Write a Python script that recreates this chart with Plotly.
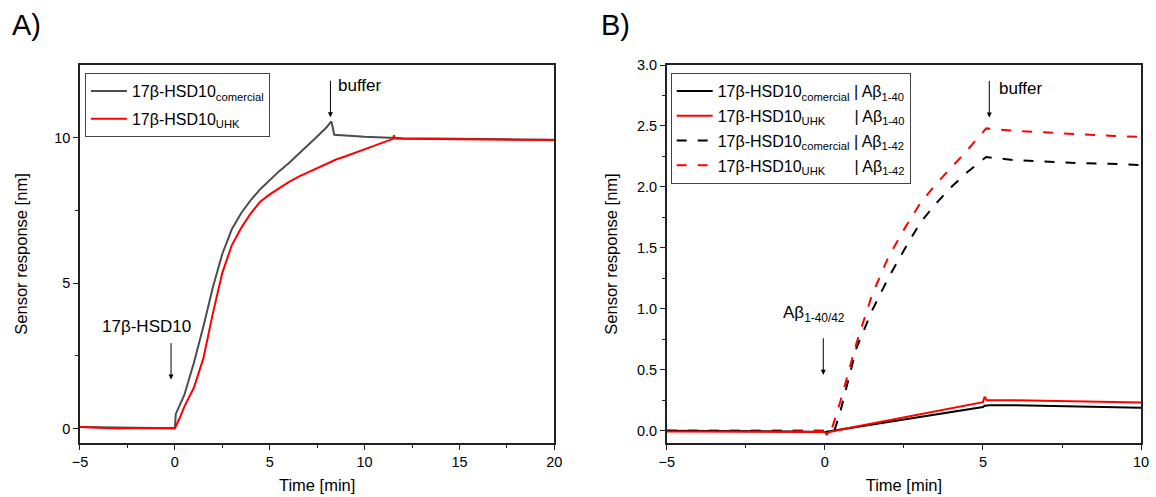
import plotly.graph_objects as go

# ---------------- Panel A: 17β-HSD10 binding ----------------
t_a_com = [-5, -4, -3, -2, -1, 0, 0.05, 0.5, 1, 1.5, 2, 2.5, 3, 3.5, 4, 4.5, 5,
           5.5, 6, 6.5, 7, 7.5, 8, 8.25, 8.4, 9, 10, 12, 14, 16, 18, 20]
y_a_com = [0.05, 0.04, 0.02, 0.03, 0.02, 0.02, 0.5, 1.15, 2.25, 3.5, 4.85, 6.0,
           6.85, 7.41, 7.85, 8.23, 8.55, 8.85, 9.12, 9.42, 9.74, 10.04, 10.36, 10.56,
           10.1, 10.07, 10.03, 9.98, 9.96, 9.95, 9.94, 9.93]

t_a_uhk = [-5, -4, -3, -2, -1, 0, 0.25, 0.5, 1, 1.5, 2, 2.5, 3, 3.5, 4, 4.5, 5,
           5.5, 6, 6.5, 7, 7.5, 8, 8.5, 9, 9.5, 10, 10.5, 11, 11.5, 11.55, 11.6,
           12, 14, 16, 18, 20]
y_a_uhk = [0.05, 0.03, 0.0, 0.02, 0.01, 0.0, 0.35, 0.75, 1.4, 2.4, 3.95, 5.35, 6.3,
           6.9, 7.4, 7.8, 8.05, 8.27, 8.47, 8.65, 8.8, 8.95, 9.1, 9.25, 9.36, 9.48,
           9.6, 9.72, 9.84, 9.96, 10.08, 9.97, 9.96, 9.95, 9.94, 9.93, 9.92]

# ---------------- Panel B: Aβ binding ----------------
t_b_com40 = [-5, -4, -3, -2, -1, 0, 0.5, 1, 2, 3, 4, 5, 5.05, 5.2, 6, 7, 8, 9, 10]
y_b_com40 = [0.0, 0.0, -0.005, 0.0, -0.005, -0.01, 0.01, 0.03, 0.075, 0.115, 0.155,
             0.195, 0.205, 0.21, 0.21, 0.205, 0.2, 0.195, 0.19]

t_b_uhk40 = [-5, -4, -3, -2, -1, 0, 0.05, 0.15, 1, 2, 3, 4, 5, 5.05, 5.12, 6, 7, 8, 9, 10]
y_b_uhk40 = [-0.005, -0.005, -0.005, -0.005, -0.005, -0.01, -0.03, -0.01, 0.035,
             0.085, 0.135, 0.185, 0.235, 0.28, 0.25, 0.25, 0.245, 0.24, 0.237, 0.232]

t_b_com42 = [-5, -4, -3, -2, -1, 0, 0.3, 0.5, 1, 1.5, 2, 2.5, 3, 3.5, 4, 4.5, 5, 5.1,
             6, 7, 8, 9, 10]
y_b_com42 = [0.0, 0.0, 0.0, 0.0, 0.0, 0.0, 0.0, 0.17, 0.68, 0.99, 1.25, 1.48, 1.70,
             1.86, 2.0, 2.12, 2.23, 2.245, 2.22, 2.205, 2.195, 2.19, 2.18]

t_b_uhk42 = [-5, -4, -3, -2, -1, 0, 0.2, 0.5, 1, 1.5, 2, 2.5, 3, 3.5, 4, 4.5, 5, 5.1,
             6, 7, 8, 9, 10]
y_b_uhk42 = [0.0, 0.0, 0.0, 0.0, 0.0, 0.0, 0.0, 0.25, 0.72, 1.12, 1.42, 1.65, 1.86,
             2.02, 2.16, 2.30, 2.45, 2.48, 2.46, 2.445, 2.43, 2.42, 2.41]

GREY = "#4d4d4d"
RED = "#ff0000"
BLACK = "#000000"
FONT = "Liberation Sans, Arial, sans-serif"
NB = "\u00a0"

name_com = "17β-HSD10<sub>comercial</sub>"
name_uhk = "17β-HSD10<sub>UHK</sub>"
pad = "<sub>" + NB * 8 + "</sub>"

fig = go.Figure()

# Panel A traces
fig.add_trace(go.Scatter(x=t_a_com, y=y_a_com, mode="lines", name=name_com,
                         line=dict(color=GREY, width=2), xaxis="x", yaxis="y",
                         legend="legend", legendgroup="a1", legendrank=1))
fig.add_trace(go.Scatter(x=t_a_uhk, y=y_a_uhk, mode="lines", name=name_uhk,
                         line=dict(color=RED, width=2), xaxis="x", yaxis="y",
                         legend="legend", legendgroup="a2", legendrank=2))

# Panel B traces (dashed drawn first so solid lines sit on top)
dash = "10px,11px"
fig.add_trace(go.Scatter(x=t_b_com42, y=y_b_com42, mode="lines",
                         name=name_com + " | Aβ<sub>1-42</sub>",
                         line=dict(color=BLACK, width=2, dash=dash), xaxis="x2", yaxis="y2",
                         legend="legend2", legendgroup="b3", legendrank=3))
fig.add_trace(go.Scatter(x=t_b_uhk42, y=y_b_uhk42, mode="lines",
                         name=name_uhk + pad + " | Aβ<sub>1-42</sub>",
                         line=dict(color=RED, width=2, dash=dash), xaxis="x2", yaxis="y2",
                         legend="legend2", legendgroup="b4", legendrank=4))
fig.add_trace(go.Scatter(x=t_b_com40, y=y_b_com40, mode="lines",
                         name=name_com + " | Aβ<sub>1-40</sub>",
                         line=dict(color=BLACK, width=2), xaxis="x2", yaxis="y2",
                         legend="legend2", legendgroup="b1", legendrank=1))
fig.add_trace(go.Scatter(x=t_b_uhk40, y=y_b_uhk40, mode="lines",
                         name=name_uhk + pad + " | Aβ<sub>1-40</sub>",
                         line=dict(color=RED, width=2), xaxis="x2", yaxis="y2",
                         legend="legend2", legendgroup="b2", legendrank=2))

W, H = 1156, 497
axis_common = dict(showline=True, linecolor="#222", linewidth=1.5, mirror=True,
                   showgrid=False, zeroline=False, ticks="outside", ticklen=5,
                   tickwidth=1, tickcolor="#222",
                   tickfont=dict(family=FONT, size=14.5, color="#000"),
                   title_font=dict(family=FONT, size=16.5, color="#000"))
minor_common = dict(ticks="outside", ticklen=3, tickwidth=1, tickcolor="#222", showgrid=False)

legend_common = dict(xanchor="left", y=1 - 8 / 378, yanchor="top",
                     bgcolor="white", bordercolor="#444", borderwidth=1,
                     font=dict(family=FONT, size=16, color="#000"), itemwidth=36,
                     traceorder="grouped")

fig.update_layout(
    width=W, height=H,
    margin=dict(l=0, r=0, t=65, b=54),
    paper_bgcolor="white", plot_bgcolor="white",
    font=dict(family=FONT, color="#000"),
    xaxis=dict(domain=[73 / W, 554 / W], range=[-5, 20], tick0=0, dtick=5,
               minor=dict(dtick=2.5, **minor_common),
               title=dict(text="Time [min]", standoff=10), anchor="y", **axis_common),
    yaxis=dict(domain=[0, 1], range=[-0.5, 12.5], tickvals=[0, 5, 10],
               minor=dict(tickvals=[2.5, 7.5], **minor_common),
               title=dict(text="Sensor response [nm]", standoff=22), anchor="x",
               **axis_common),
    xaxis2=dict(domain=[668 / W, 1149 / W], range=[-5, 10], tick0=0, dtick=5,
                minor=dict(dtick=2.5, **minor_common),
                title=dict(text="Time [min]", standoff=10), anchor="y2", **axis_common),
    yaxis2=dict(domain=[0, 1], range=[-0.1, 3.0], tick0=0, dtick=0.5, tickformat=".1f",
                minor=dict(dtick=0.25, **minor_common),
                title=dict(text="Sensor response [nm]", standoff=15), anchor="x2",
                **axis_common),
    legend=dict(x=78 / W, tracegroupgap=4, **legend_common),
    legend2=dict(x=672 / W, tracegroupgap=1, **legend_common),
    showlegend=True,
)

ann_font = dict(family=FONT, size=17, color="#000")
annotations = [
    # panel letters
    dict(text="A)", xref="paper", yref="paper", x=2 / W, y=1 + 40 / 378,
         xanchor="left", yanchor="middle", showarrow=False,
         font=dict(family=FONT, size=29, color="#000")),
    dict(text="B)", xref="paper", yref="paper", x=599 / W, y=1 + 40 / 378,
         xanchor="left", yanchor="middle", showarrow=False,
         font=dict(family=FONT, size=29, color="#000")),
    # event labels
    dict(text="17β-HSD10", xref="x", yref="y", x=-1.47, y=3.5, showarrow=False,
         font=ann_font),
    dict(text="buffer", xref="x", yref="y", x=9.77, y=11.79, showarrow=False,
         font=ann_font),
    dict(text="Aβ<sub>1-40/42</sub>", xref="x2", yref="y2", x=-0.34, y=0.96,
         showarrow=False, font=ann_font),
    dict(text="buffer", xref="x2", yref="y2", x=6.19, y=2.81, showarrow=False,
         font=ann_font),
]
# event arrows
arrow_style = dict(text="", showarrow=True, arrowhead=2, arrowsize=1, arrowwidth=1,
                   arrowcolor="#000", ax=0, ay=-38, standoff=0)
annotations += [
    dict(xref="x", yref="y", x=-0.2, y=1.68, **arrow_style),
    dict(xref="x", yref="y", x=8.2, y=10.7, **arrow_style),
    dict(xref="x2", yref="y2", x=-0.05, y=0.46, **arrow_style),
    dict(xref="x2", yref="y2", x=5.2, y=2.57, **arrow_style),
]
fig.update_layout(annotations=annotations)

fig.write_html("out.html")
